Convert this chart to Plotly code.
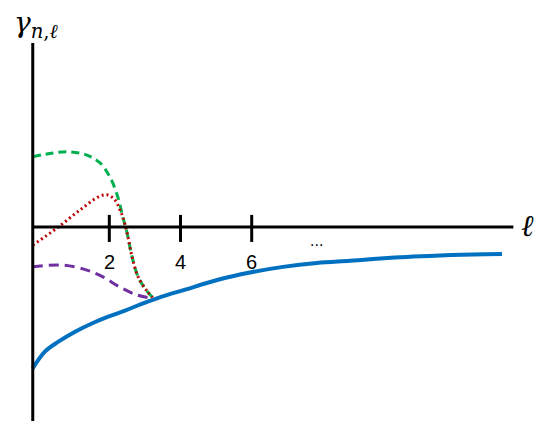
import plotly.graph_objects as go

# schematic curves (ell, gamma)
blue_l = [-0.15, 0.19, 0.57, 1.04, 1.51, 1.97, 2.44, 2.91, 3.38, 4.13, 5.03, 5.95, 6.88, 7.83, 8.76, 9.41, 10.36, 11.29, 12.22, 13.03]
blue_g = [-3.97, -3.50, -3.22, -2.94, -2.71, -2.52, -2.35, -2.16, -1.99, -1.76, -1.49, -1.28, -1.12, -1.01, -0.95, -0.90, -0.84, -0.80, -0.77, -0.76]

green_l = [-0.15, 0.42, 0.90, 1.37, 1.74, 2.02, 2.24, 2.38, 2.50, 2.64, 2.81, 3.06, 3.22]
green_g = [1.97, 2.08, 2.11, 2.02, 1.80, 1.40, 0.84, 0.28, -0.17, -0.84, -1.40, -1.80, -1.98]

red_l = [-0.15, 0.53, 1.18, 1.74, 1.96, 2.16, 2.30, 2.38, 2.50, 2.64, 2.81, 3.06, 3.22]
red_g = [-0.51, -0.03, 0.48, 0.87, 0.90, 0.76, 0.48, 0.28, -0.17, -0.84, -1.40, -1.80, -1.98]

purple_l = [-0.15, 0.70, 1.37, 1.82, 2.30, 2.78, 3.18]
purple_g = [-1.12, -1.07, -1.21, -1.40, -1.69, -1.91, -2.00]

tick_vals = [2, 4, 6]
tick_text = ['2', '4', '6']

axis_l0 = -0.15
axis_l1 = 13.35
axis_top = 5.17
axis_bot = -5.45

fig = go.Figure()

fig.add_trace(go.Scatter(x=purple_l, y=purple_g, mode='lines', line_shape='spline',
                         line=dict(color='#7030A0', width=3, dash='10px,6px')))
fig.add_trace(go.Scatter(x=blue_l, y=blue_g, mode='lines', line_shape='spline',
                         line=dict(color='#0070C0', width=4)))
fig.add_trace(go.Scatter(x=green_l, y=green_g, mode='lines', line_shape='spline',
                         line=dict(color='#00B050', width=3, dash='8px,5px')))
fig.add_trace(go.Scatter(x=red_l, y=red_g, mode='lines', line_shape='spline',
                         line=dict(color='#C00000', width=3, dash='2px,3px')))

# axes drawn by hand, like the schematic
shapes = [
    dict(type='line', x0=axis_l0, x1=axis_l0, y0=axis_bot, y1=axis_top, line=dict(color='black', width=3)),
    dict(type='line', x0=axis_l0, x1=axis_l1, y0=0, y1=0, line=dict(color='black', width=3)),
]
for t in tick_vals:
    shapes.append(dict(type='line', x0=t, x1=t, y0=-0.42, y1=0.34, line=dict(color='black', width=3)))

annotations = [
    dict(x=t, y=-0.98, text=s, showarrow=False, font=dict(size=20, color='black', family='Liberation Sans'))
    for t, s in zip(tick_vals, tick_text)
]
annotations += [
    dict(x=7.83, y=-0.38, text='...', showarrow=False, font=dict(size=16, color='black', family='Liberation Sans')),
    dict(x=13.75, y=0.05, text='<i>ℓ</i>', showarrow=False, font=dict(size=30, color='black', family='DejaVu Serif')),
    dict(x=-0.05, y=5.7, text='<i>γ</i><sub><i>n</i>,<i>ℓ</i></sub>', showarrow=False,
         font=dict(size=28, color='black', family='DejaVu Serif')),
]

fig.update_layout(
    width=539, height=426,
    margin=dict(l=0, r=0, t=0, b=0),
    paper_bgcolor='white', plot_bgcolor='white',
    showlegend=False,
    shapes=shapes,
    annotations=annotations,
    xaxis=dict(range=[-1.07, 14.07], visible=False, fixedrange=True),
    yaxis=dict(range=[-5.59, 6.376], visible=False, fixedrange=True),
)

fig.write_html("out.html", config={'displayModeBar': False},
               post_script="document.body.style.margin='0px';")
